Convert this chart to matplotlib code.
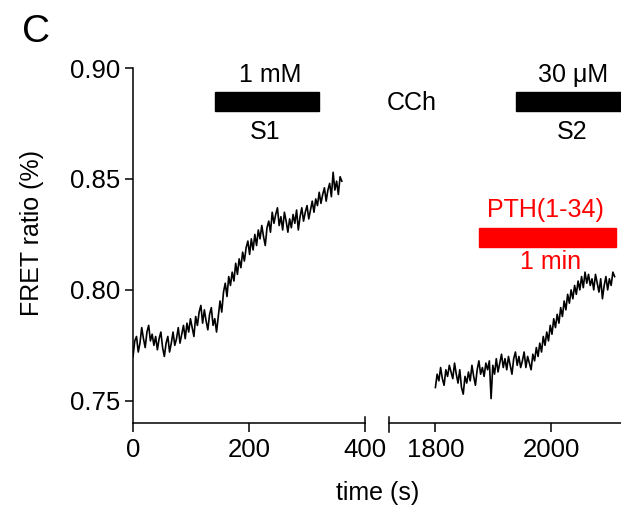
import numpy as np
import matplotlib
matplotlib.use("Agg")
from matplotlib import pyplot as plt
from matplotlib.patches import Rectangle

# FRET ratio traces, sampled every 3 s
s1_start = 0
s1_ratio = [
    .770, .777, .779, .772, .776, .783, .778, .774, .781, .784,
    .777, .780, .775, .779, .773, .778, .781, .774, .770, .776,
    .779, .772, .776, .781, .775, .778, .783, .776, .780, .784,
    .778, .785, .781, .787, .783, .779, .788, .784, .790, .793,
    .785, .791, .786, .782, .789, .792, .784, .787, .781, .788,
    .795, .790, .799, .803, .797, .806, .802, .808, .804, .812,
    .807, .814, .810, .817, .813, .819, .822, .816, .823, .818,
    .825, .820, .827, .823, .829, .824, .820, .828, .831, .826,
    .835, .830, .834, .837, .829, .833, .827, .835, .831, .826,
    .832, .828, .834, .830, .836, .827, .833, .837, .831, .835,
    .838, .832, .836, .840, .835, .841, .838, .844, .839, .843,
    .846, .840, .845, .848, .842, .853, .845, .849, .843, .851,
    .849,
]

s2_start = 1800
s2_ratio = [
    .756, .762, .759, .765, .760, .757, .764, .761, .766, .763,
    .760, .767, .762, .758, .764, .756, .753, .761, .758, .763,
    .759, .766, .761, .757, .764, .768, .762, .765, .761, .767,
    .764, .768, .751, .766, .762, .769, .763, .767, .771, .765,
    .769, .764, .770, .766, .762, .769, .772, .766, .770, .765,
    .768, .772, .765, .770, .767, .764, .771, .768, .774, .770,
    .776, .772, .779, .775, .781, .777, .784, .780, .787, .783,
    .789, .785, .792, .788, .795, .791, .798, .794, .800, .796,
    .802, .798, .804, .800, .806, .801, .808, .803, .807, .802,
    .805, .800, .807, .803, .799, .805, .796, .802, .806, .800,
    .805, .802, .808, .806,
]
dt = 3

# stimulus bars (start, end in s)
cch1_bar = (141, 321)
cch2_bar = (1939, 2125)
pth_bar = (1875, 2111)

plt.rcParams['font.family'] = ['Liberation Sans', 'DejaVu Sans']
plt.rcParams['font.size'] = 18

fig = plt.figure(figsize=(6.21, 5.11), dpi=100)
ax1 = fig.add_axes([0.2142, 0.1722, 0.3736, 0.6947])
ax2 = fig.add_axes([0.6264, 0.1722, 0.3736, 0.6947])

t1 = s1_start + dt * np.arange(len(s1_ratio))
t2 = s2_start + dt * np.arange(len(s2_ratio))
ax1.plot(t1, s1_ratio, color="black", lw=1.2)
ax2.plot(t2, s2_ratio, color="black", lw=1.2)

for ax in (ax1, ax2):
    ax.set_ylim(0.74, 0.90)
    ax.spines['top'].set_visible(False)
    ax.spines['right'].set_visible(False)
    for sp in ax.spines.values():
        sp.set_linewidth(1.1)
    ax.tick_params(width=1.1, length=6.5, labelsize=18.5, pad=4)

ax1.set_xlim(0, 400)
ax1.set_xticks([0, 200, 400])
ax1.set_yticks([0.75, 0.80, 0.85, 0.90])
ax1.set_yticklabels(["0.75", "0.80", "0.85", "0.90"])
ax1.tick_params(axis='y', length=6, pad=3)

ax2.set_xlim(1720, 2120)
ax2.set_xticks([1800, 2000])
ax2.spines['left'].set_visible(False)
ax2.set_yticks([])

# axis break marks
ax1.plot([1, 1], [0, 0.017], transform=ax1.transAxes, color="black", lw=1.1, clip_on=False)
ax2.plot([0, 0], [-0.026, 0.017], transform=ax2.transAxes, color="black", lw=1.1, clip_on=False)

# stimulus bars
bar_lo, bar_hi = 0.8806, 0.889
ax1.add_patch(Rectangle((cch1_bar[0], bar_lo), cch1_bar[1] - cch1_bar[0], bar_hi - bar_lo,
                        color="black", clip_on=False))
ax2.add_patch(Rectangle((cch2_bar[0], bar_lo), cch2_bar[1] - cch2_bar[0], bar_hi - bar_lo,
                        color="black", clip_on=False))
ax2.add_patch(Rectangle((pth_bar[0], 0.8194), pth_bar[1] - pth_bar[0], 0.0085,
                        color="#ff0000", clip_on=False))

ax1.text(236, 0.8968, "1 mM", ha="center", va="center", fontsize=18, clip_on=False)
ax1.text(228, 0.871, "S1", ha="center", va="center", fontsize=18, clip_on=False)
ax2.text(2038, 0.8968, "30 \u03bcM", ha="center", va="center", fontsize=18, clip_on=False)
ax2.text(2036, 0.871, "S2", ha="center", va="center", fontsize=18, clip_on=False)
ax2.text(1990, 0.836, "PTH(1-34)", ha="center", va="center", fontsize=18, color="#ff0000", clip_on=False)
ax2.text(1999, 0.8126, "1 min", ha="center", va="center", fontsize=18, color="#ff0000", clip_on=False)

fig.text(412 / 621, 1 - 103 / 511, "CCh", ha="center", va="center", fontsize=18)
fig.text(36 / 621, 1 - 32 / 511, "C", ha="center", va="center", fontsize=28)
fig.text(378 / 621, 1 - 493 / 511, "time (s)", ha="center", va="center", fontsize=18)
fig.text(32 / 621, 1 - 233 / 511, "FRET ratio (%)", ha="center", va="center", rotation=90, fontsize=18)

plt.savefig("out.png", dpi=100)
